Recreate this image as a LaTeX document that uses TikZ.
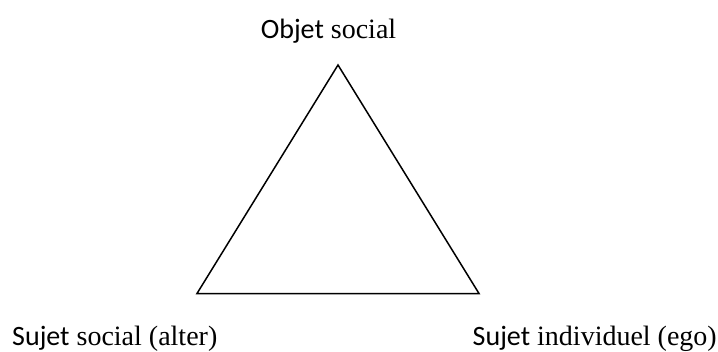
\documentclass[tikz,border=0pt]{standalone}
\usepackage{fontspec}
\setmainfont{Liberation Serif}
\newfontfamily\calib{Carlito}
\usetikzlibrary{positioning}

\begin{document}
\begin{tikzpicture}[
    x=1pt, y=-1pt,
    lbl/.style={inner sep=0pt, anchor=base, font=\fontsize{28}{32}\selectfont},
    side/.style={line width=1.5pt, line join=miter}
  ]
    \useasboundingbox (0,0) rectangle (718,351);
    \coordinate (top) at (338,65);
    \coordinate (left) at (197,293.5);
    \coordinate (right) at (479,293.5);
    \draw[side] (top) -- (right) -- (left) -- cycle;
    \node[lbl] (obj) at (328.5,38) {{\calib Objet} social};
    \node[lbl, anchor=base west] (alter) at (12,345) {{\calib Sujet} social (alter)};
    \node[lbl, anchor=base east] (ego) at (717,345) {{\calib Sujet} individuel (ego)};
  \end{tikzpicture}
\end{document}
